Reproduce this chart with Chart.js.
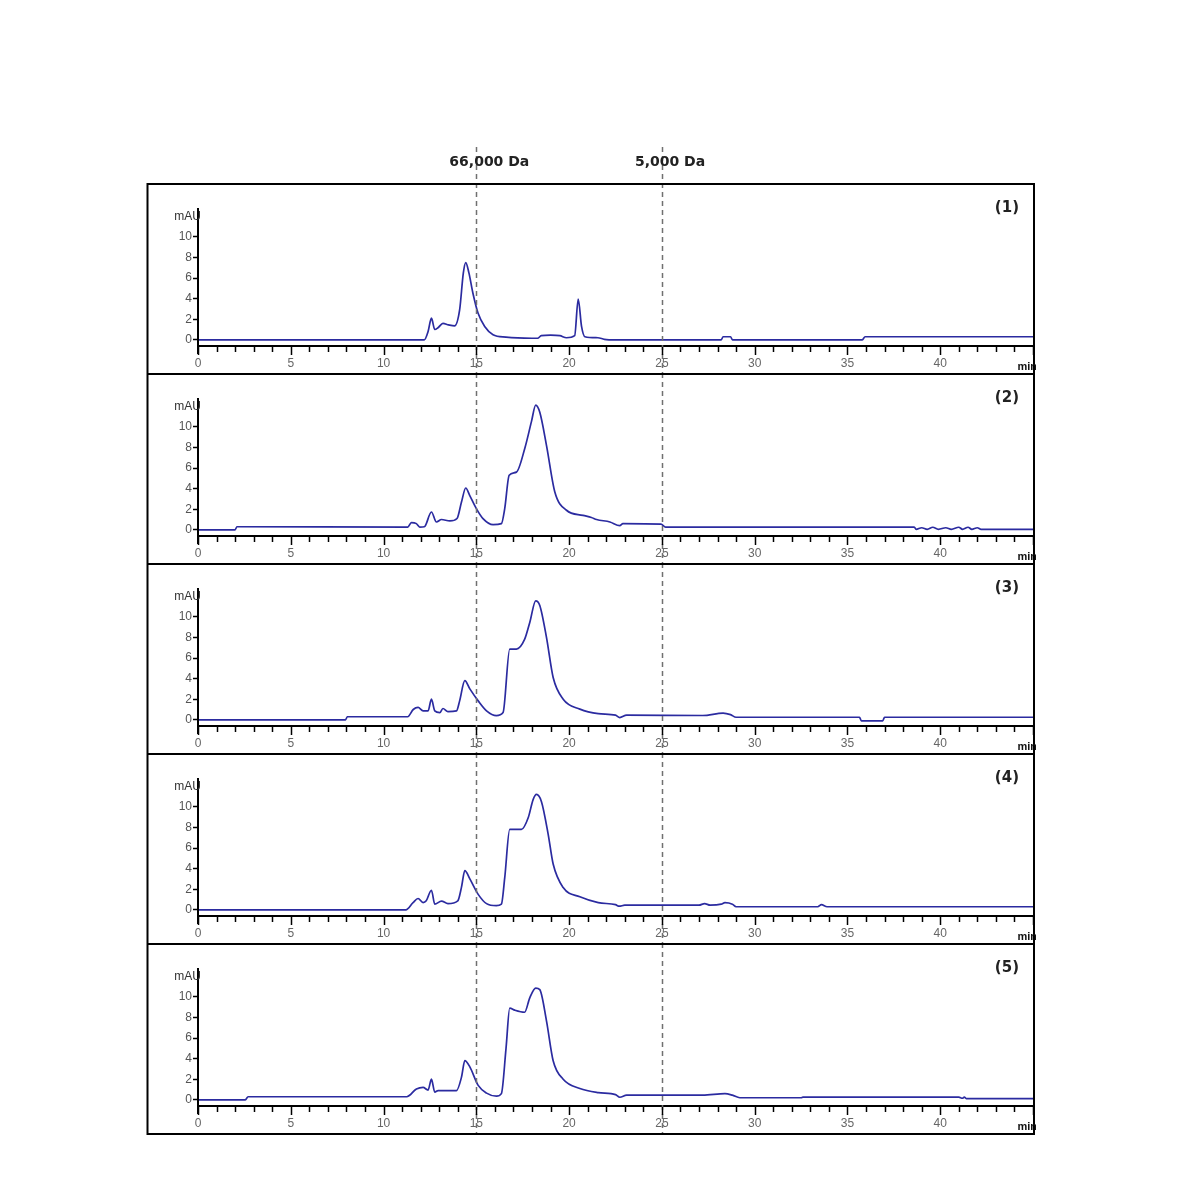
<!DOCTYPE html>
<html>
<head>
<meta charset="utf-8">
<script src="https://cdn.jsdelivr.net/npm/chart.js@4.4.1/dist/chart.umd.min.js"></script>
<style>
  body { margin: 0; background: #fff; }
  #page { position: relative; width: 1190px; height: 1179px; background: #fff; }
  #page canvas { position: absolute; left: 146px; }
</style>
</head>
<body>
<div id="page">
  <canvas id="c1" width="890" height="233" style="top:140px"></canvas>
  <canvas id="c2" width="890" height="190" style="top:373px"></canvas>
  <canvas id="c3" width="890" height="190" style="top:563px"></canvas>
  <canvas id="c4" width="890" height="190" style="top:753px"></canvas>
  <canvas id="c5" width="890" height="192" style="top:943px"></canvas>
</div>
<script>
// panel names, marker lines and axis ticks
const sampleLabels = ["(1)", "(2)", "(3)", "(4)", "(5)"];
const markerTimes = [15, 25];
const markerLabels = ["66,000 Da", "5,000 Da"];
const xTicks = [0, 5, 10, 15, 20, 25, 30, 35, 40];
const yTicks = [0, 2, 4, 6, 8, 10];

// chromatograms: [time (min), absorbance (mAU)]
const trace1 = [[0,0],[12.2,0],[12.4,0.8],[12.58,2.1],[12.76,1.0],[12.95,1.2],[13.2,1.6],[13.5,1.45],[13.83,1.35],
  [14.1,2.9],[14.3,6.5],[14.43,7.5],[14.6,6.5],[14.82,4.5],[15.09,2.6],[15.45,1.3],[15.9,0.5],[16.6,0.26],[18.0,0.15],
  [18.3,0.15],[18.5,0.4],[19.0,0.45],[19.5,0.4],[19.86,0.2],[20.3,0.4],[20.49,3.95],[20.67,1.3],[20.85,0.3],[21.55,0.2],
  [21.9,0.05],[22.5,0],[28.2,0],[28.3,0.3],[28.7,0.3],[28.8,0],[35.8,0],[35.95,0.3],[45,0.3]];

const trace2 = [[0,0],[2.0,0],[2.1,0.3],[11.3,0.27],[11.5,0.7],[11.77,0.6],[11.95,0.27],[12.2,0.3],[12.58,1.73],
  [12.85,0.76],[13.12,1.0],[13.57,0.86],[13.96,1.1],[14.2,2.7],[14.43,4.06],[14.64,3.35],[15.0,2.06],[15.36,1.09],
  [15.9,0.5],[16.35,0.6],[16.53,2.06],[16.77,5.3],[17.16,5.6],[17.61,7.9],[17.97,10.5],[18.2,12.1],[18.42,11.4],
  [18.78,8.2],[19.23,3.67],[19.86,1.9],[20.75,1.4],[21.2,1.2],[21.48,1.0],[22.2,0.76],[22.73,0.4],[22.9,0.6],
  [24.95,0.55],[25.2,0.27],[38.6,0.27],[38.7,0.05],[39.0,0.2],[39.3,0.05],[39.6,0.25],[39.9,0.05],[40.3,0.2],
  [40.6,0.05],[41.0,0.25],[41.2,0.05],[41.5,0.25],[41.7,0.05],[42.0,0.2],[42.2,0.05],[45,0.05]];

const trace3 = [[0,0],[7.95,0],[8.05,0.3],[11.3,0.3],[11.6,1.0],[11.86,1.2],[12.13,0.87],[12.4,0.87],[12.58,2.0],
  [12.76,0.87],[13.03,0.7],[13.2,1.1],[13.47,0.8],[13.93,0.87],[14.1,1.84],[14.38,3.8],[14.65,3.0],[15.1,1.84],
  [15.55,0.87],[16.08,0.4],[16.44,0.7],[16.8,6.86],[17.16,6.86],[17.6,7.8],[17.88,9.45],[18.2,11.55],[18.42,11.1],
  [18.78,8.0],[19.14,4.1],[19.68,2.0],[20.58,1.04],[21.57,0.6],[22.5,0.45],[22.73,0.22],[23.1,0.45],[27.2,0.42],
  [28.3,0.65],[28.7,0.5],[29.0,0.25],[35.65,0.25],[35.75,-0.1],[36.9,-0.1],[37.0,0.25],[45,0.25]];

const trace4 = [[0,0],[11.2,0],[11.59,0.7],[11.86,1.1],[12.13,0.7],[12.3,0.87],[12.58,1.9],[12.76,0.55],[13.12,0.85],
  [13.47,0.6],[14.0,0.87],[14.2,2.2],[14.38,3.8],[14.65,3.0],[15.1,1.5],[15.55,0.6],[16.08,0.4],[16.35,0.55],
  [16.53,3.1],[16.8,7.8],[17.43,7.8],[17.8,8.96],[18.06,10.7],[18.24,11.2],[18.51,10.5],[18.87,7.35],[19.14,4.44],
  [19.68,2.16],[20.58,1.26],[21.57,0.7],[22.5,0.5],[22.7,0.35],[23.0,0.45],[27.0,0.45],[27.3,0.6],[27.6,0.45],
  [28.2,0.55],[28.4,0.7],[28.8,0.55],[29.0,0.3],[33.4,0.3],[33.6,0.5],[33.9,0.3],[45,0.3]];

const trace5 = [[0,0],[2.55,0],[2.7,0.3],[11.25,0.3],[11.77,1.04],[12.13,1.2],[12.4,0.95],[12.58,2.0],[12.76,0.75],
  [12.94,0.9],[13.93,0.9],[14.2,2.2],[14.38,3.8],[14.65,3.2],[15.1,1.4],[15.55,0.65],[16.08,0.35],[16.35,0.6],
  [16.6,5.0],[16.8,8.9],[17.07,8.7],[17.6,8.5],[17.88,9.9],[18.2,10.85],[18.42,10.7],[18.78,7.67],[19.14,3.8],
  [19.68,2.0],[20.58,1.1],[21.57,0.7],[22.5,0.5],[22.73,0.25],[23.1,0.45],[27.2,0.45],[28.4,0.6],[28.8,0.45],
  [29.2,0.2],[32.5,0.2],[32.6,0.27],[41.0,0.27],[41.2,0.15],[41.3,0.27],[41.4,0.12],[45,0.12]];

const traces = [trace1, trace2, trace3, trace4, trace5];

const tickFont = { family: "'Liberation Sans', Arial, sans-serif", size: 12 };

// frame, minute ticks, dashed markers and captions
const panelFrame = {
    id: "panelFrame",
    afterDraw(chart, args, opts) {
        const { ctx, chartArea: a } = chart;
        const x = chart.scales.x;
        const w = chart.width, h = chart.height;
        const top = opts.frameTop;
        ctx.save();

        ctx.strokeStyle = "#707070";
        ctx.lineWidth = 1.5;
        ctx.setLineDash([5, 4]);
        markerTimes.forEach((t) => {
            const px = Math.round(x.getPixelForValue(t)) + 0.5;
            ctx.beginPath();
            ctx.moveTo(px, opts.dashTop);
            ctx.lineTo(px, h);
            ctx.stroke();
        });
        ctx.setLineDash([]);

        ctx.strokeStyle = "#000";
        ctx.lineWidth = 2;
        ctx.beginPath();
        ctx.moveTo(1.5, h);
        ctx.lineTo(1.5, top + 1);
        ctx.lineTo(w - 2, top + 1);
        ctx.lineTo(w - 2, h);
        if (opts.last) {
            ctx.moveTo(1.5, h - 1);
            ctx.lineTo(w - 2, h - 1);
        }
        ctx.stroke();

        ctx.lineWidth = 1.5;
        for (let t = x.min; t <= x.max; t++) {
            const px = Math.round(x.getPixelForValue(t)) + 0.5;
            ctx.beginPath();
            ctx.moveTo(px, a.bottom + 1);
            ctx.lineTo(px, a.bottom + (t % 5 === 0 ? 9 : 6));
            ctx.stroke();
        }
        ctx.lineWidth = 2;
        ctx.beginPath();
        ctx.moveTo(a.left, a.top - 2);
        ctx.lineTo(a.left, a.bottom + 8);
        ctx.stroke();

        ctx.textBaseline = "middle";
        ctx.fillStyle = "#333";
        ctx.font = "12px 'Liberation Sans', Arial, sans-serif";
        ctx.textAlign = "right";
        ctx.fillText("mAU", a.left + 3, a.top + 7);

        ctx.fillStyle = "#111";
        ctx.font = "bold 11px 'Liberation Sans', Arial, sans-serif";
        ctx.fillText("min", a.right + 4, a.bottom + 21);

        ctx.fillStyle = "#222";
        ctx.font = "bold 15px 'DejaVu Sans', sans-serif";
        ctx.fillText(opts.label, 873, top + 25);

        if (opts.header) {
            ctx.textAlign = "left";
            ctx.font = "bold 14px 'DejaVu Sans', sans-serif";
            markerTimes.forEach((t, i) => {
                ctx.fillText(markerLabels[i], x.getPixelForValue(t) - 27, 22);
            });
        }
        ctx.restore();
    }
};

traces.forEach((trace, i) => {
    const canvas = document.getElementById("c" + (i + 1));
    const header = i === 0 ? 43 : 0;
    const xAxisH = canvas.height - header - 27 - 136;

    new Chart(canvas.getContext("2d"), {
        type: "line",
        data: {
            datasets: [{
                data: trace.map(([t, v]) => ({ x: t, y: v })),
                borderColor: "#2b2ba0",
                borderWidth: 1.7,
                pointRadius: 0,
                fill: false,
                cubicInterpolationMode: "monotone",
            }]
        },
        options: {
            responsive: false,
            animation: false,
            devicePixelRatio: 1,
            layout: { padding: { top: header + 27, right: 3, left: 0, bottom: 0 } },
            plugins: {
                legend: { display: false },
                tooltip: { enabled: false },
                panelFrame: {
                    frameTop: header,
                    dashTop: i === 0 ? 7 : 0,
                    last: i === traces.length - 1,
                    header: i === 0,
                    label: sampleLabels[i],
                },
            },
            scales: {
                x: {
                    type: "linear",
                    min: 0,
                    max: 45,
                    afterBuildTicks: (s) => { s.ticks = xTicks.map((v) => ({ value: v })); },
                    afterFit: (s) => { s.height = xAxisH; },
                    grid: { drawOnChartArea: false, drawTicks: false },
                    border: { display: true, color: "#000", width: 2 },
                    ticks: { color: "#666", font: tickFont, padding: 10, maxRotation: 0, autoSkip: false },
                },
                y: {
                    min: -0.6,
                    max: 12.6,
                    afterBuildTicks: (s) => { s.ticks = yTicks.map((v) => ({ value: v })); },
                    afterFit: (s) => { s.width = 52; },
                    grid: { drawOnChartArea: false, drawTicks: true, tickLength: 5, tickColor: "#000", tickWidth: 1.5 },
                    border: { display: true, color: "#000", width: 2 },
                    ticks: { color: "#555", font: tickFont, padding: 1 },
                },
            },
        },
        plugins: [panelFrame],
    });
});
</script>
</body>
</html>
